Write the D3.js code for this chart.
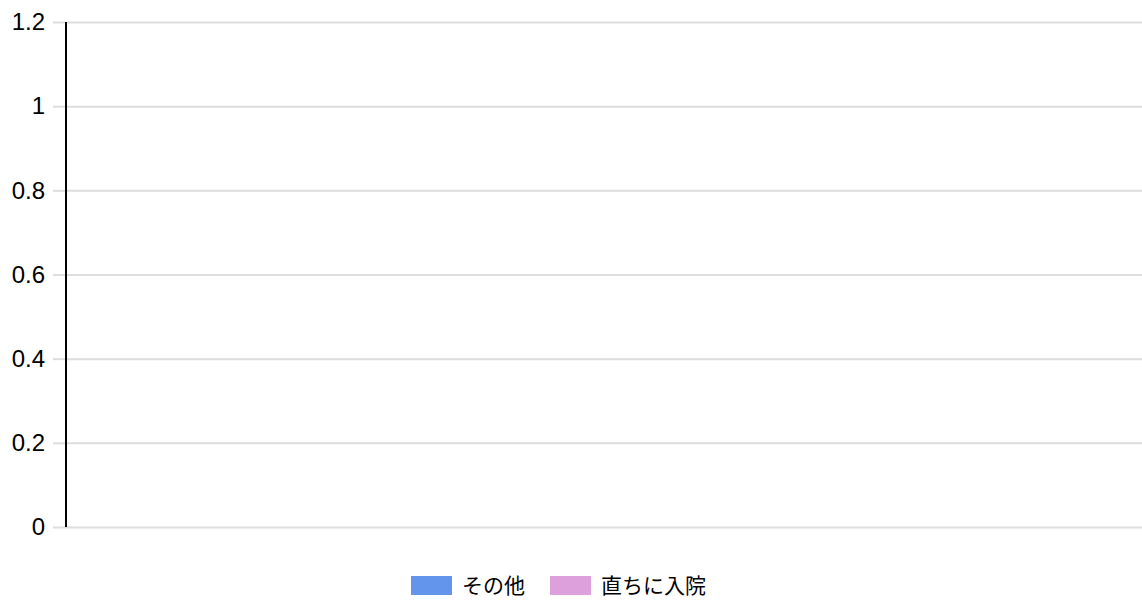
<!DOCTYPE html>
<html>
<head>
<meta charset="utf-8">
<script src="https://cdn.jsdelivr.net/npm/d3@7"></script>
<style>
  body { margin: 0; background: #fff; }
  text { font-family: "Liberation Sans", Arial, "Noto Sans CJK JP", sans-serif; }
</style>
</head>
<body>
<div id="chart"></div>
<script>
// data (the chart has no bars drawn)
const categories = [];
const seriesNames = ["その他", "直ちに入院"];
const seriesColors = ["#6495ED", "#DDA0DD"];
const otherValues = [];
const admitValues = [];
const yTicks = [0, 0.2, 0.4, 0.6, 0.8, 1, 1.2];

const width = 1142, height = 601;
const margin = {top: 22, left: 66, right: 0, bottom: 74};

const svg = d3.select("#chart").append("svg")
    .attr("width", width)
    .attr("height", height);

const xScale = d3.scaleBand()
    .domain(categories)
    .range([margin.left, width - margin.right])
    .padding(0.2);

const yScale = d3.scaleLinear()
    .domain([0, 1.2])
    .range([height - margin.bottom, margin.top]);

// gridlines + tick marks
const yAxis = svg.append("g")
    .attr("transform", `translate(${margin.left},0)`)
    .call(d3.axisLeft(yScale).tickValues(yTicks).tickFormat(d => d3.format("~g")(d))
        .tickSize(13).tickPadding(8));
yAxis.attr("font-size", null).attr("font-family", null);
yAxis.select(".domain").remove();
yAxis.selectAll(".tick line")
    .attr("stroke", "#dddddd")
    .attr("stroke-width", 2)
    .attr("x2", -13)
    .clone()
    .attr("x1", 0)
    .attr("x2", width - margin.left);
yAxis.selectAll(".tick text")
    .style("font-size", "24px")
    .attr("fill", "#000");

svg.append("line")
    .attr("x1", margin.left).attr("x2", margin.left)
    .attr("y1", yScale(1.2)).attr("y2", yScale(0))
    .attr("stroke", "#000").attr("stroke-width", 2);

// bars (grouped), none present in the data
const x1 = d3.scaleBand().domain(seriesNames).range([0, xScale.bandwidth()]);
const rows = categories.map((c, i) => ({c, vals: [otherValues[i], admitValues[i]]}));
svg.selectAll("g.cat").data(rows).enter().append("g")
    .attr("class", "cat")
    .selectAll("rect")
    .data(d => d.vals.map((v, j) => ({c: d.c, v, j})))
    .enter().append("rect")
    .attr("x", d => xScale(d.c) + x1(seriesNames[d.j]))
    .attr("y", d => yScale(d.v))
    .attr("width", x1.bandwidth())
    .attr("height", d => yScale(0) - yScale(d.v))
    .attr("fill", d => seriesColors[d.j]);

// legend
const legendX = [411, 550];
const legend = svg.selectAll("g.legend").data(seriesNames).enter().append("g")
    .attr("class", "legend")
    .attr("transform", (d, i) => `translate(${legendX[i]},576)`);
legend.append("rect")
    .attr("width", 41).attr("height", 19)
    .attr("fill", (d, i) => seriesColors[i]);
legend.append("text")
    .attr("x", 51).attr("y", 17)
    .style("font-size", "21px")
    .attr("fill", "#000")
    .text(d => d);
</script>
</body>
</html>
